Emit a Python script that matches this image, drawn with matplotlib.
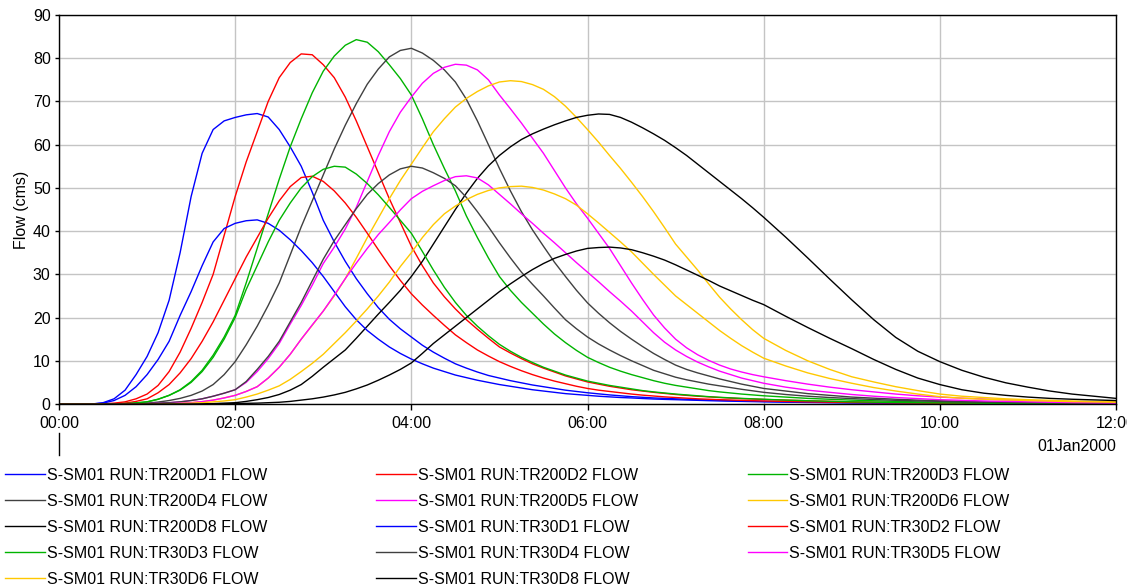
import matplotlib
matplotlib.use("Agg")
import matplotlib.pyplot as plt
from matplotlib.ticker import FuncFormatter, MultipleLocator

plt.rcParams['font.family'] = ['Liberation Sans', 'DejaVu Sans']

# hours after 01Jan2000 00:00 (1/8 h up to 08:00, then 1/4 h)
hours = [0, 0.125, 0.25, 0.375, 0.5, 0.625, 0.75, 0.875,
         1, 1.125, 1.25, 1.375, 1.5, 1.625, 1.75, 1.875,
         2, 2.125, 2.25, 2.375, 2.5, 2.625, 2.75, 2.875,
         3, 3.125, 3.25, 3.375, 3.5, 3.625, 3.75, 3.875,
         4, 4.125, 4.25, 4.375, 4.5, 4.625, 4.75, 4.875,
         5, 5.125, 5.25, 5.375, 5.5, 5.625, 5.75, 5.875,
         6, 6.125, 6.25, 6.375, 6.5, 6.625, 6.75, 6.875,
         7, 7.125, 7.25, 7.375, 7.5, 7.625, 7.75, 7.875,
         8,
         8.25, 8.5, 8.75, 9, 9.25, 9.5, 9.75, 10,
         10.25, 10.5, 10.75, 11, 11.25, 11.5, 11.75, 12]

# flow (cms)
tr200d1 = [0, 0, 0, 0, 0.3, 1.2, 3.2, 6.8,
           11, 16.5, 24, 35, 48, 58, 63.5, 65.5,
           66.3, 66.9, 67.2, 66.4, 63.5, 59.5, 55, 49,
           42.5, 37.5, 33, 29, 25.5, 22.3, 19.6, 17.4,
           15.5, 13.6, 12, 10.6, 9.3, 8.3, 7.4, 6.6,
           6, 5.4, 4.9, 4.4, 4, 3.6, 3.2, 2.9,
           2.6, 2.35, 2.1, 1.9, 1.7, 1.55, 1.4, 1.3,
           1.2, 1.1, 1.0, 0.92, 0.85, 0.78, 0.7, 0.65,
           0.6,
           0.51, 0.42, 0.36, 0.3, 0.25, 0.2, 0.17, 0.14,
           0.12, 0.1, 0.08, 0.06, 0.05, 0.04, 0.03, 0.02]
tr200d2 = [0, 0, 0, 0, 0.05, 0.2, 0.5, 1.2,
           2.3, 4.3, 7.5, 12, 17.5, 23.5, 30, 39,
           48, 56, 63, 70, 75.5, 79, 81, 80.8,
           78.5, 75.5, 71, 65.5, 59.5, 53.5, 47.5, 42,
           36.5, 32, 28, 24.8, 22, 19.5, 17.3, 15.2,
           13.2, 11.8, 10.5, 9.3, 8.3, 7.4, 6.5, 5.8,
           5.1, 4.6, 4.1, 3.7, 3.3, 3.0, 2.7, 2.45,
           2.2, 2.0, 1.8, 1.65, 1.5, 1.37, 1.25, 1.15,
           1.05,
           0.9, 0.75, 0.62, 0.5, 0.42, 0.35, 0.3, 0.25,
           0.21, 0.17, 0.14, 0.11, 0.09, 0.07, 0.06, 0.05]
tr200d3 = [0, 0, 0, 0, 0, 0, 0.1, 0.25,
           0.5, 1.1, 2, 3.3, 5.2, 7.8, 11.3, 15.5,
           20.5, 28, 36, 44, 52, 59.5, 66, 72,
           77, 80.5, 83, 84.3, 83.7, 81.5, 78.5, 75.3,
           71.5, 66, 60, 54.5, 49.3, 43.5, 38.5, 33.8,
           29.5, 26.3, 23.5, 21, 18.5, 16.2, 14.2, 12.4,
           10.8, 9.6, 8.5, 7.6, 6.8, 6.1, 5.4, 4.8,
           4.3, 3.9, 3.5, 3.1, 2.8, 2.55, 2.3, 2.1,
           1.9,
           1.6, 1.3, 1.1, 0.9, 0.75, 0.6, 0.5, 0.42,
           0.36, 0.3, 0.25, 0.2, 0.17, 0.14, 0.12, 0.1]
tr200d4 = [0, 0, 0, 0, 0, 0, 0.05, 0.1,
           0.2, 0.45, 0.8, 1.3, 2.0, 3.0, 4.5, 6.8,
           9.8, 13.7, 18, 22.8, 28, 34.5, 41, 47,
           53, 59, 64.5, 69.5, 74, 77.5, 80.3, 81.8,
           82.3, 81.2, 79.5, 77.3, 74.5, 70.5, 65.5, 60,
           54.5, 49.3, 44.5, 40.3, 36.5, 32.8, 29.5, 26.3,
           23.4, 21, 18.8, 16.8, 15, 13.3, 11.7, 10.3,
           9, 8, 7.2, 6.5, 5.8, 5.2, 4.6, 4.1,
           3.6,
           3.0, 2.4, 2.0, 1.6, 1.35, 1.1, 0.9, 0.75,
           0.62, 0.5, 0.42, 0.35, 0.29, 0.24, 0.2, 0.16]
tr200d5 = [0, 0, 0, 0, 0, 0, 0, 0.05,
           0.1, 0.2, 0.3, 0.5, 0.8, 1.2, 1.8, 2.5,
           3.3, 5, 7.5, 10.5, 14, 18.5, 22.8, 27.5,
           32.5, 36.3, 40.5, 45.5, 51.5, 57.5, 63, 67.5,
           71, 74.2, 76.5, 77.9, 78.6, 78.4, 77.3, 75,
           71.5, 68.3, 65, 61.5, 58, 54, 50, 46.3,
           43, 39.5, 36, 32, 28, 24.2, 20.6, 17.6,
           15, 13, 11.4, 10.1, 9.0, 8.1, 7.4, 6.8,
           6.3,
           5.4, 4.6, 3.9, 3.3, 2.8, 2.3, 1.9, 1.6,
           1.35, 1.15, 0.95, 0.8, 0.67, 0.55, 0.47, 0.4]
tr200d6 = [0, 0, 0, 0, 0, 0, 0, 0,
           0, 0.05, 0.1, 0.2, 0.3, 0.55, 0.9, 1.4,
           2.0, 2.9, 4, 6, 8.5, 11.5, 15, 18.2,
           21.5, 25, 29, 33.7, 38.5, 43, 47.5, 51.7,
           55.5, 59.3, 63, 66, 68.7, 70.7, 72.3, 73.6,
           74.5, 74.8, 74.6, 73.9, 72.8, 71.1, 68.9, 66.3,
           63.5, 60.6, 57.5, 54.5, 51.3, 48, 44.5, 40.8,
           37, 34, 31, 27.8, 24.7, 22, 19.5, 17.2,
           15.2,
           12.4, 10, 8, 6.3, 5.1, 4.0, 3.1, 2.3,
           1.8, 1.5, 1.2, 1.0, 0.85, 0.7, 0.6, 0.5]
tr200d8 = [0, 0, 0, 0, 0, 0, 0, 0,
           0, 0, 0, 0, 0, 0.05, 0.1, 0.2,
           0.3, 0.6, 1, 1.5, 2.2, 3.2, 4.5, 6.4,
           8.5, 10.5, 12.5, 15.2, 18, 20.8, 23.5, 26.3,
           29.5, 33, 37, 41, 45, 48.8, 52.2, 55.1,
           57.5, 59.5, 61.2, 62.5, 63.6, 64.6, 65.5, 66.3,
           66.8, 67.1, 67.0, 66.3, 65.2, 63.9, 62.5, 61,
           59.3, 57.5, 55.5, 53.5, 51.5, 49.5, 47.5, 45.4,
           43.2,
           38.6, 33.8, 28.9, 24.1, 19.5, 15.4, 12.2, 9.8,
           7.8, 6.2, 4.9, 3.9, 3.0, 2.3, 1.8, 1.3]
tr30d1 = [0, 0, 0, 0, 0.2, 0.8, 2, 4,
          6.8, 10.3, 14.5, 20.5, 26, 32, 37.5, 40.6,
          41.8, 42.4, 42.6, 41.8, 40.2, 38, 35.5, 32.7,
          29.5, 26, 22.5, 19.5, 17, 15, 13.2, 11.7,
          10.4, 9.3, 8.3, 7.5, 6.7, 6.1, 5.5, 5,
          4.5, 4.1, 3.7, 3.3, 3.0, 2.7, 2.4, 2.2,
          2.0, 1.8, 1.65, 1.5, 1.4, 1.27, 1.15, 1.07,
          1.0, 0.92, 0.85, 0.77, 0.7, 0.65, 0.6, 0.55,
          0.5,
          0.42, 0.35, 0.3, 0.25, 0.21, 0.17, 0.14, 0.12,
          0.1, 0.08, 0.06, 0.05, 0.04, 0.03, 0.025, 0.02]
tr30d2 = [0, 0, 0, 0, 0, 0.05, 0.2, 0.6,
          1.2, 2.6, 4.5, 7.2, 10.5, 14.5, 19, 24,
          29, 34, 38.5, 43, 47, 50.3, 52.4, 52.7,
          51.5, 49.3, 46.5, 43.2, 39.5, 35.7, 32, 28.6,
          25.5, 22.9, 20.5, 18.2, 16, 14.2, 12.5, 11.1,
          9.8, 8.7, 7.7, 6.8, 6, 5.3, 4.7, 4.1,
          3.6, 3.2, 2.9, 2.6, 2.3, 2.05, 1.85, 1.65,
          1.5, 1.35, 1.2, 1.1, 1.0, 0.92, 0.85, 0.77,
          0.7,
          0.6, 0.5, 0.42, 0.35, 0.3, 0.25, 0.21, 0.17,
          0.14, 0.12, 0.1, 0.08, 0.06, 0.05, 0.04, 0.03]
tr30d3 = [0, 0, 0, 0, 0, 0, 0.1, 0.25,
          0.5, 1.1, 2, 3.2, 5, 7.5, 10.8, 15,
          20, 26.5, 32, 37.5, 42.5, 46.5, 50, 52.6,
          54.3, 55, 54.8, 53.2, 51, 48.4, 45.5, 42.5,
          39.5, 35.3, 31, 27, 23.5, 20.5, 18, 15.8,
          13.8, 12.2, 10.8, 9.6, 8.5, 7.6, 6.7, 6.0,
          5.3, 4.8, 4.3, 3.9, 3.5, 3.1, 2.8, 2.55,
          2.3, 2.1, 1.9, 1.7, 1.55, 1.42, 1.3, 1.2,
          1.1,
          0.9, 0.75, 0.62, 0.5, 0.42, 0.35, 0.3, 0.25,
          0.21, 0.17, 0.14, 0.11, 0.09, 0.07, 0.06, 0.05]
tr30d4 = [0, 0, 0, 0, 0, 0, 0, 0.05,
          0.1, 0.2, 0.3, 0.5, 0.8, 1.2, 1.8, 2.5,
          3.3, 5.2, 8, 11, 14.5, 19, 23.5, 28.5,
          33.5, 37.8, 41.5, 45.2, 48.5, 51, 53, 54.4,
          55, 54.6, 53.5, 52.2, 50.5, 47.8, 44.5, 41,
          37.3, 33.8, 30.5, 27.7, 25, 22.2, 19.5, 17.4,
          15.5, 13.9, 12.5, 11.2, 10, 8.9, 7.8, 7,
          6.2, 5.6, 5.1, 4.6, 4.2, 3.8, 3.4, 3.05,
          2.7,
          2.2, 1.8, 1.5, 1.25, 1.05, 0.85, 0.72, 0.6,
          0.5, 0.42, 0.36, 0.3, 0.25, 0.2, 0.16, 0.13]
tr30d5 = [0, 0, 0, 0, 0, 0, 0, 0,
          0, 0.05, 0.1, 0.2, 0.3, 0.55, 0.9, 1.4,
          2.0, 2.9, 4, 6, 8.5, 11.5, 15, 18.3,
          21.5, 25.2, 29, 32.6, 36, 39.2, 42, 44.9,
          47.5, 49.2, 50.5, 51.7, 52.6, 52.8, 52.3, 50.7,
          48.5, 46.3, 44, 41.8, 39.5, 37.3, 35, 32.7,
          30.5, 28.3, 26, 23.8, 21.5, 19, 16.5, 14.3,
          12.5, 11, 9.7, 8.6, 7.6, 6.8, 6, 5.4,
          4.8,
          3.9, 3.2, 2.7, 2.2, 1.8, 1.5, 1.25, 1.0,
          0.85, 0.7, 0.6, 0.5, 0.4, 0.33, 0.27, 0.22]
tr30d6 = [0, 0, 0, 0, 0, 0, 0, 0,
          0, 0, 0.05, 0.1, 0.2, 0.3, 0.5, 0.7,
          1.0, 1.6, 2.3, 3.2, 4.2, 5.7, 7.5, 9.4,
          11.5, 14, 16.5, 19.2, 22, 25, 28.2, 31.8,
          35, 38.5, 41.5, 44, 45.8, 47.3, 48.5, 49.4,
          50, 50.3, 50.4, 50.1, 49.5, 48.6, 47.5, 46,
          44, 41.9, 39.7, 37.5, 35.2, 32.6, 30, 27.5,
          25, 23, 21, 19, 17, 15.2, 13.5, 12,
          10.6,
          8.8, 7.2, 5.9, 4.8, 3.8, 3.0, 2.3, 1.7,
          1.35, 1.1, 0.95, 0.8, 0.67, 0.55, 0.47, 0.4]
tr30d8 = [0, 0, 0, 0, 0, 0, 0, 0,
          0, 0, 0, 0, 0, 0, 0, 0.05,
          0.1, 0.15, 0.2, 0.3, 0.4, 0.6, 0.9, 1.2,
          1.6, 2.1, 2.7, 3.5, 4.4, 5.5, 6.7, 8.0,
          9.5, 11.7, 14, 16, 18, 20, 22, 24,
          26, 27.8, 29.5, 31.1, 32.5, 33.7, 34.6, 35.4,
          36, 36.2, 36.3, 36.1, 35.7, 35, 34.2, 33.3,
          32.2, 31, 29.8, 28.6, 27.3, 26.2, 25.1, 24,
          23,
          20.3, 17.7, 15.2, 12.8, 10.3, 8, 6, 4.5,
          3.3, 2.5, 2.0, 1.6, 1.3, 1.1, 0.95, 0.8]

runs = ['TR200D1', 'TR200D2', 'TR200D3', 'TR200D4', 'TR200D5', 'TR200D6', 'TR200D8',
        'TR30D1', 'TR30D2', 'TR30D3', 'TR30D4', 'TR30D5', 'TR30D6', 'TR30D8']
flows = [tr200d1, tr200d2, tr200d3, tr200d4, tr200d5, tr200d6, tr200d8,
         tr30d1, tr30d2, tr30d3, tr30d4, tr30d5, tr30d6, tr30d8]
palette = ['#0000ff', '#ff0000', '#00b400', '#404040', '#ff00ff', '#ffc800', '#000000']

fig = plt.figure(figsize=(11.27, 5.88), dpi=100)
ax = fig.add_axes([59 / 1127, 184 / 588, 1057 / 1127, 389 / 588])

lines = []
for i in range(len(runs)):
    ln, = ax.plot(hours, flows[i], color=palette[i % 7], lw=1.0,
                  label='S-SM01 RUN:' + runs[i] + ' FLOW')
    lines.append(ln)

ax.set_xlim(0, 12)
ax.set_ylim(0, 90)
ax.xaxis.set_major_locator(MultipleLocator(2))
ax.yaxis.set_major_locator(MultipleLocator(10))
ax.xaxis.set_major_formatter(FuncFormatter(lambda v, p: '%02d:00' % int(round(v))))
ax.grid(True, color='#c4c4c4', lw=1.0)
ax.set_axisbelow(True)
for s in ax.spines.values():
    s.set_color('black')
    s.set_linewidth(1.0)
ax.tick_params(axis='x', direction='out', length=4, width=1, pad=5, labelsize=11.5)
ax.tick_params(axis='y', direction='out', length=3, width=1, pad=3, labelsize=11.5)
ax.set_ylabel('Flow (cms)', fontsize=11.5, labelpad=3)

# date marker under the time axis
ax.plot([0, 0], [-0.075, -0.13], transform=ax.get_xaxis_transform(),
        color='black', lw=1, clip_on=False)
ax.text(1.0, -0.108, '01Jan2000', transform=ax.transAxes, ha='right', va='center',
        fontsize=11.5)

# legend filled row by row, 3 columns
order = [0, 3, 6, 9, 12, 1, 4, 7, 10, 13, 2, 5, 8, 11]
fig.legend([lines[k] for k in order], [lines[k].get_label() for k in order],
           loc='upper left', bbox_to_anchor=(5 / 1127, 1 - 468 / 588), ncol=3,
           frameon=False, handlelength=2.5, handletextpad=0.1, columnspacing=6.85,
           labelspacing=0.69, borderpad=0, borderaxespad=0, fontsize=11.5)

fig.savefig('out.png', dpi=100)
